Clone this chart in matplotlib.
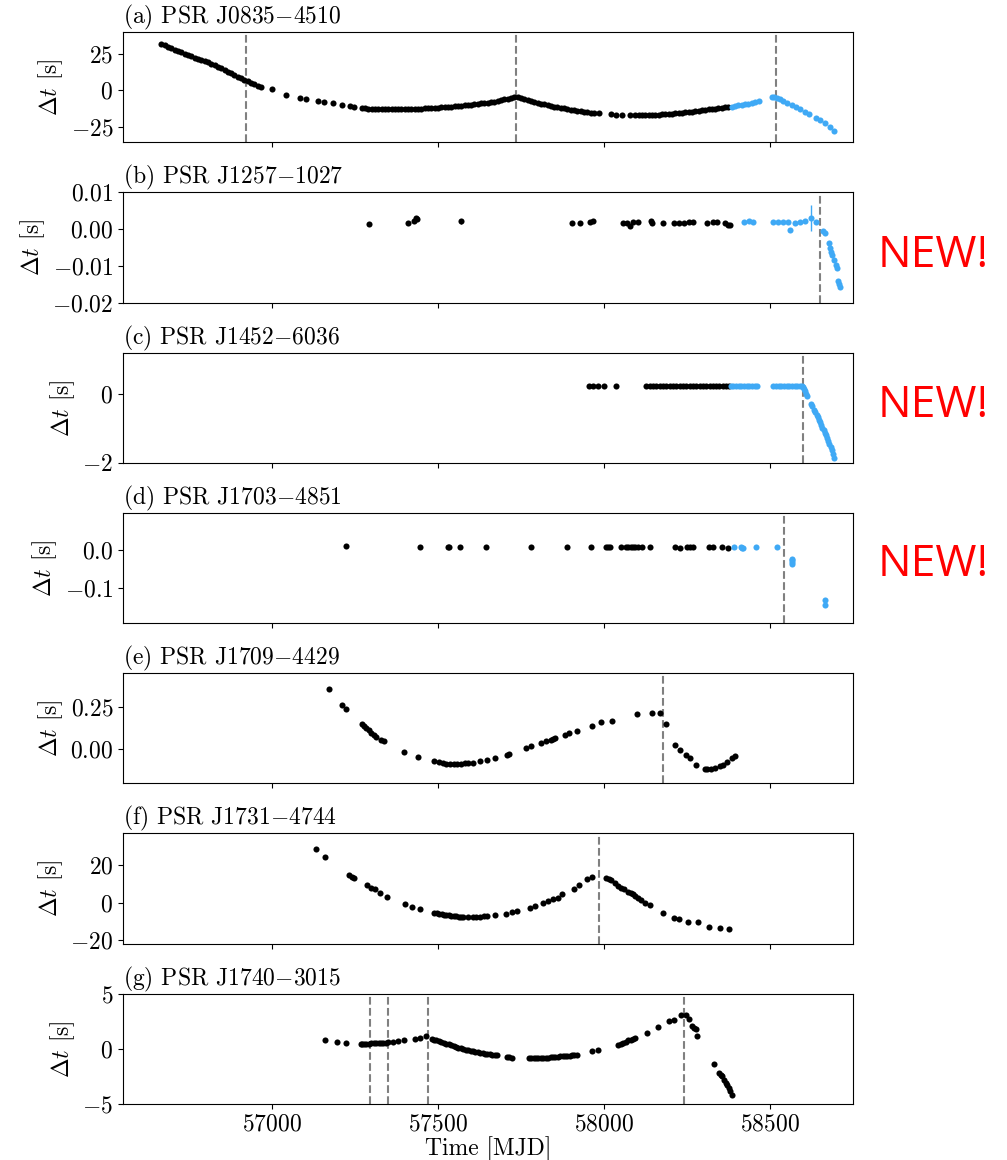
import numpy as np
import matplotlib.pyplot as plt

plt.rcParams['font.family'] = 'serif'
plt.rcParams['font.serif'] = ['cmr10']
plt.rcParams['mathtext.fontset'] = 'cm'
plt.rcParams['axes.formatter.use_mathtext'] = True
plt.rcParams['axes.unicode_minus'] = True

BLUE = '#3fa9f5'

# ---- (a) PSR J0835-4510 ----
a_mjd_k = [56667, 56677, 56687, 56697, 56707, 56717, 56727, 56737, 56747, 56757,
           56767, 56777, 56787, 56797, 56807, 56817, 56827, 56837, 56847, 56857,
           56867, 56877, 56887, 56897, 56907, 56917, 56927, 56937, 56947, 56957,
           56967, 57000, 57041, 57083, 57102, 57139, 57156, 57183, 57212, 57234,
           57248, 57270, 57280, 57290, 57300, 57310, 57320, 57330, 57340, 57350,
           57360, 57370, 57380, 57390, 57400, 57410, 57420, 57430, 57440, 57450,
           57460, 57470, 57480, 57490, 57500, 57510, 57520, 57530, 57540, 57550,
           57560, 57570, 57580, 57590, 57600, 57610, 57620, 57630, 57640, 57650,
           57660, 57670, 57680, 57690, 57700, 57710, 57720, 57730,
           57740, 57750, 57760, 57770, 57780, 57790, 57800, 57810, 57820, 57830,
           57840, 57850, 57860, 57870, 57880, 57890, 57900, 57910, 57920, 57930,
           57940, 57950, 57960, 57970, 57985, 58022, 58035, 58055, 58078, 58095,
           58105, 58115, 58125, 58135, 58145, 58155, 58165, 58175, 58185, 58195,
           58205, 58215, 58225, 58235, 58245, 58255, 58265, 58275, 58285, 58295,
           58305, 58315, 58325, 58335, 58345, 58355, 58365, 58375]
a_dt_k = [31.8, 30.8, 29.7, 28.7, 27.7, 26.8, 25.9, 25.0, 24.1, 23.1,
          22.2, 21.3, 20.5, 19.7, 18.9, 17.9, 17.0, 15.9, 14.8, 13.7,
          12.6, 11.5, 10.4, 9.3, 8.2, 7.1, 6.0, 5.0, 4.0, 3.0,
          2.0, 0.5, -3.0, -5.2, -6.1, -7.5, -8.2, -9.1, -10.2, -10.9,
          -11.8, -12.3, -12.4, -12.6, -12.7, -12.8, -12.9, -12.9, -13.0, -13.0,
          -13.1, -13.1, -13.1, -13.0, -13.0, -12.9, -12.9, -12.8, -12.7, -12.6,
          -12.5, -12.3, -12.2, -12.0, -11.9, -11.7, -11.5, -11.4, -11.2, -11.0,
          -10.8, -10.6, -10.4, -10.1, -9.9, -9.6, -9.4, -9.1, -8.8, -8.5,
          -8.2, -7.8, -7.4, -6.9, -6.4, -5.8, -5.3, -4.5,
          -4.9, -5.6, -6.3, -6.9, -7.5, -8.1, -8.6, -9.2, -9.7, -10.2,
          -10.7, -11.2, -11.6, -12.1, -12.5, -12.9, -13.3, -13.7, -14.0, -14.4,
          -14.7, -15.0, -15.3, -15.6, -15.9, -16.6, -16.8, -17.0, -17.2, -17.3,
          -17.3, -17.3, -17.2, -17.1, -17.0, -16.9, -16.8, -16.6, -16.5, -16.3,
          -16.1, -15.9, -15.7, -15.4, -15.2, -14.9, -14.7, -14.4, -14.1, -13.8,
          -13.5, -13.2, -12.9, -12.6, -12.3, -12.0, -11.8, -11.5]
a_mjd_b = [58385, 58395, 58405, 58415, 58425, 58435, 58445, 58455, 58466,
           58505, 58512, 58522, 58530, 58540, 58552, 58565, 58578, 58590, 58605,
           58618, 58640, 58652, 58665, 58680, 58692]
a_dt_b = [-11.2, -10.9, -10.5, -10.1, -9.7, -9.2, -8.7, -8.1, -7.5,
          -5.0, -4.8, -5.4, -6.2, -7.4, -8.7, -10.2, -11.8, -13.2, -15.0,
          -16.6, -19.2, -20.6, -22.3, -25.0, -28.0]
a_glitch = [56923, 57734, 58517]

# ---- (b) PSR J1257-1027 ----
b_mjd_k = [57293, 57410, 57428, 57433, 57438, 57568, 57905, 57927, 57959, 57967,
           58058, 58070, 58078, 58087, 58102, 58142, 58145, 58177, 58211, 58226,
           58240, 58255, 58269, 58309, 58328, 58342, 58364, 58373, 58379]
b_dt_k = [0.0013, 0.0017, 0.0023, 0.0029, 0.0027, 0.0021, 0.0017, 0.0016, 0.0020, 0.0021,
          0.0017, 0.0017, 0.0007, 0.0020, 0.0018, 0.0022, 0.0017, 0.0017, 0.0017, 0.0016,
          0.0017, 0.0018, 0.0018, 0.0017, 0.0020, 0.0020, 0.0016, 0.0012, 0.0011]
b_err_k = [0.0002, 0.0002, 0.0003, 0.0007, 0.0004, 0.0006, 0.0002, 0.0002, 0.0002, 0.0002,
           0.0003, 0.0002, 0.0004, 0.0002, 0.0002, 0.0004, 0.0002, 0.0002, 0.0002, 0.0002,
           0.0002, 0.0002, 0.0002, 0.0002, 0.0002, 0.0002, 0.0002, 0.0002, 0.0002]
b_mjd_b = [58423, 58437, 58449, 58510, 58525, 58539, 58554, 58561, 58576, 58590,
           58605, 58624, 58639, 58660, 58665, 58677, 58681, 58685, 58688, 58693,
           58698, 58701, 58704, 58708, 58712]
b_dt_b = [0.0020, 0.0022, 0.0020, 0.0020, 0.0020, 0.0019, 0.0019, -0.0003, 0.0017, 0.0018,
          0.0022, 0.0031, 0.0020, -0.0005, -0.0012, -0.0039, -0.0051, -0.0062, -0.0071, -0.0085,
          -0.0099, -0.0106, -0.0142, -0.0149, -0.0158]
b_err_b = [0.0004, 0.0003, 0.0003, 0.0003, 0.0003, 0.0003, 0.0003, 0.0003, 0.0003, 0.0003,
           0.0004, 0.0035, 0.0003, 0.0003, 0.0003, 0.0004, 0.0004, 0.0004, 0.0004, 0.0004,
           0.0004, 0.0004, 0.0004, 0.0004, 0.0004]
b_glitch = [58652]

# ---- (c) PSR J1452-6036 ----
c_mjd_k = [57956, 57968, 57981, 58000, 58036, 58128, 58138, 58148, 58158, 58168,
           58178, 58188, 58198, 58208, 58218, 58228, 58238, 58248, 58258, 58268,
           58278, 58288, 58298, 58308, 58318, 58328, 58338, 58348, 58358, 58368,
           58376]
c_dt_k = [0.25, 0.25, 0.25, 0.25, 0.25, 0.25, 0.25, 0.25, 0.25, 0.25,
          0.25, 0.25, 0.25, 0.25, 0.25, 0.25, 0.25, 0.25, 0.25, 0.25,
          0.25, 0.25, 0.25, 0.25, 0.25, 0.25, 0.25, 0.25, 0.25, 0.25,
          0.25]
c_mjd_b = [58382, 58390, 58398, 58406, 58414, 58422, 58430, 58438, 58446, 58454,
           58462, 58510, 58518, 58526, 58534, 58542, 58550, 58558, 58566, 58574,
           58582, 58590, 58596, 58601, 58604, 58607, 58610, 58613, 58624, 58628,
           58633, 58637, 58641, 58644, 58648, 58651, 58655, 58658, 58662, 58665,
           58669, 58672, 58676, 58679, 58683, 58686, 58690, 58693]
c_dt_b = [0.25, 0.25, 0.25, 0.25, 0.25, 0.25, 0.25, 0.25, 0.25, 0.25,
          0.25, 0.25, 0.25, 0.25, 0.25, 0.25, 0.25, 0.25, 0.25, 0.25,
          0.25, 0.25, 0.25, 0.22, 0.17, 0.10, 0.02, -0.05, -0.27, -0.34,
          -0.45, -0.52, -0.60, -0.66, -0.74, -0.81, -0.89, -0.97, -1.05, -1.12,
          -1.20, -1.28, -1.37, -1.45, -1.54, -1.63, -1.74, -1.85]
c_glitch = [58600]

# ---- (d) PSR J1703-4851 ----
d_mjd_k = [57223, 57445, 57530, 57533, 57565, 57646, 57781, 57890, 57960, 58007,
           58011, 58017, 58051, 58065, 58072, 58080, 58087, 58094, 58102, 58116,
           58138, 58215, 58230, 58250, 58259, 58269, 58317, 58329, 58357, 58373]
d_dt_k = [0.010, 0.007, 0.008, 0.007, 0.007, 0.008, 0.007, 0.008, 0.006, 0.007,
          0.008, 0.007, 0.007, 0.007, 0.008, 0.007, 0.006, 0.007, 0.007, 0.007,
          0.007, 0.007, 0.005, 0.007, 0.007, 0.007, 0.007, 0.006, 0.007, 0.004]
d_mjd_b = [58391, 58412, 58416, 58418, 58459, 58522,
           58566, 58566, 58567, 58567, 58666, 58666]
d_dt_b = [0.007, 0.007, 0.005, 0.004, 0.007, 0.007,
          -0.024, -0.028, -0.032, -0.037, -0.130, -0.142]
d_glitch = [58542]

# ---- (e) PSR J1709-4429 ----
e_mjd_k = [57172, 57212, 57222, 57270, 57277, 57284, 57292, 57299, 57306, 57314,
           57328, 57336, 57398, 57439, 57489, 57503, 57515, 57525, 57536, 57547,
           57558, 57569, 57580, 57591, 57605, 57627, 57649, 57671, 57708, 57715,
           57766, 57781, 57810, 57825, 57839, 57846, 57854, 57883, 57895, 57919,
           57963, 57992, 58025, 58100, 58144, 58170, 58186, 58215, 58230, 58247,
           58259, 58277, 58303, 58310, 58323, 58335, 58349, 58360, 58371, 58386,
           58396]
e_dt_k = [0.354, 0.262, 0.238, 0.146, 0.136, 0.124, 0.112, 0.096, 0.083, 0.073,
          0.057, 0.049, -0.014, -0.045, -0.071, -0.077, -0.081, -0.085, -0.086, -0.085,
          -0.085, -0.085, -0.083, -0.081, -0.081, -0.071, -0.061, -0.051, -0.031, -0.026,
          0.008, 0.018, 0.037, 0.047, 0.057, 0.061, 0.065, 0.087, 0.093, 0.110,
          0.136, 0.159, 0.169, 0.205, 0.215, 0.215, 0.146, 0.028, -0.006, -0.031,
          -0.051, -0.091, -0.114, -0.117, -0.116, -0.110, -0.100, -0.090, -0.077, -0.051,
          -0.041]
e_glitch = [58177]

# ---- (f) PSR J1731-4744 ----
f_mjd_k = [57134, 57160, 57233, 57240, 57247, 57285, 57299, 57311, 57325, 57347,
           57401, 57423, 57445, 57489, 57496, 57503, 57511, 57518, 57525, 57533,
           57540, 57547, 57555, 57562, 57569, 57576, 57590, 57605, 57616, 57627,
           57638, 57649, 57671, 57705, 57722, 57737, 57778, 57792, 57817, 57832,
           57846, 57861, 57875, 57909, 57924, 57949, 57963, 58007, 58014, 58021,
           58032, 58043, 58052, 58061, 58072, 58080, 58087, 58095, 58102, 58112,
           58123, 58138, 58177, 58211, 58226, 58253, 58282, 58316, 58350, 58376]
f_dt_k = [28.6, 24.6, 14.8, 13.8, 13.0, 9.3, 7.9, 7.1, 5.4, 3.2,
          -0.9, -2.3, -3.4, -5.4, -5.6, -5.9, -6.2, -6.4, -6.6, -6.8,
          -7.0, -7.1, -7.3, -7.5, -7.6, -7.7, -7.7, -7.5, -7.6, -7.5,
          -7.3, -7.1, -6.8, -5.9, -5.2, -4.5, -2.7, -1.8, -0.4, 0.7,
          1.8, 2.7, 4.5, 7.5, 9.3, 12.5, 13.9, 13.4, 12.8, 12.1,
          10.6, 8.9, 7.9, 7.1, 5.7, 5.0, 4.5, 3.5, 2.7, 1.4,
          -0.4, -1.4, -5.4, -8.0, -8.9, -10.4, -10.4, -12.9, -13.8, -14.3]
f_glitch = [57985]

# ---- (g) PSR J1740-3015 ----
g_mjd_k = [57160, 57197, 57223, 57267, 57272, 57277, 57284, 57292, 57299, 57306,
           57313, 57321, 57328, 57335, 57343, 57350, 57365, 57379, 57398, 57430,
           57445, 57463, 57481, 57488, 57495, 57503, 57510, 57517, 57525, 57532,
           57539, 57547, 57554, 57561, 57569, 57576, 57583, 57591, 57598, 57605,
           57613, 57620, 57627, 57635, 57642, 57649, 57657, 57664, 57671, 57678,
           57708, 57713, 57722, 57773, 57780, 57788, 57795, 57802, 57810, 57817,
           57825, 57832, 57839, 57846, 57854, 57861, 57868, 57876, 57883, 57890,
           57897, 57904, 57911, 57919, 57963, 57982, 58043, 58050, 58058, 58065,
           58072, 58080, 58087, 58094, 58131, 58163, 58197, 58211, 58233, 58247,
           58255, 58265, 58270, 58277, 58281, 58332, 58347, 58352, 58357, 58362,
           58367, 58372, 58376, 58381, 58386]
g_dt_k = [0.79, 0.64, 0.55, 0.48, 0.48, 0.48, 0.48, 0.48, 0.49, 0.50,
          0.51, 0.52, 0.54, 0.55, 0.57, 0.58, 0.61, 0.67, 0.79, 0.94,
          1.03, 1.15, 0.94, 0.85, 0.77, 0.70, 0.62, 0.55, 0.48, 0.40,
          0.32, 0.24, 0.17, 0.12, 0.06, 0.00, -0.06, -0.12, -0.18, -0.23,
          -0.27, -0.31, -0.35, -0.39, -0.43, -0.46, -0.48, -0.52, -0.55, -0.58,
          -0.73, -0.75, -0.79, -0.82, -0.83, -0.82, -0.83, -0.82, -0.82, -0.81,
          -0.80, -0.79, -0.77, -0.75, -0.73, -0.71, -0.69, -0.67, -0.64, -0.62,
          -0.61, -0.58, -0.55, -0.52, -0.18, -0.06, 0.39, 0.47, 0.55, 0.65,
          0.76, 0.85, 0.94, 1.03, 1.45, 1.97, 2.50, 2.65, 3.06, 3.03,
          2.73, 2.06, 1.90, 1.76, 1.15, -1.33, -2.18, -2.33, -2.48, -2.80,
          -3.09, -3.30, -3.55, -3.85, -4.15]
g_glitch = [57296, 57349, 57471, 58240]

titles = ['(a) PSR J0835$-$4510', '(b) PSR J1257$-$1027', '(c) PSR J1452$-$6036',
          '(d) PSR J1703$-$4851', '(e) PSR J1709$-$4429', '(f) PSR J1731$-$4744',
          '(g) PSR J1740$-$3015']

panels = [
    dict(k=(a_mjd_k, a_dt_k, None), b=(a_mjd_b, a_dt_b, None), gl=a_glitch,
         ylim=(-35.6, 39.7), yt=[-25, 0, 25]),
    dict(k=(b_mjd_k, b_dt_k, b_err_k), b=(b_mjd_b, b_dt_b, b_err_b), gl=b_glitch,
         ylim=(-0.02, 0.01), yt=[-0.02, -0.01, 0.0, 0.01]),
    dict(k=(c_mjd_k, c_dt_k, None), b=(c_mjd_b, c_dt_b, None), gl=c_glitch,
         ylim=(-2.0, 1.22), yt=[-2, 0]),
    dict(k=(d_mjd_k, d_dt_k, None), b=(d_mjd_b, d_dt_b, None), gl=d_glitch,
         ylim=(-0.19, 0.095), yt=[-0.1, 0.0]),
    dict(k=(e_mjd_k, e_dt_k, None), b=None, gl=e_glitch,
         ylim=(-0.2, 0.447), yt=[0.0, 0.25]),
    dict(k=(f_mjd_k, f_dt_k, None), b=None, gl=f_glitch,
         ylim=(-22, 37), yt=[-20, 0, 20]),
    dict(k=(g_mjd_k, g_dt_k, None), b=None, gl=g_glitch,
         ylim=(-5, 5), yt=[-5, 0, 5]),
]

fig, axs = plt.subplots(7, 1, sharex=True, figsize=(10.07, 11.6), dpi=100)
fig.subplots_adjust(left=0.1221, right=0.847, top=0.9724, bottom=0.0483, hspace=0.4545)

for ax, p, title in zip(axs, panels, titles):
    for key, col in (('k', 'k'), ('b', BLUE)):
        if p[key] is None:
            continue
        x, y, err = p[key]
        ax.errorbar(x, y, yerr=err, fmt='o', color=col, ms=4.4, mew=0,
                    elinewidth=1.0, capsize=0, zorder=3)
    for g in p['gl']:
        ax.axvline(g, color='grey', ls='--', lw=1.5, zorder=2)
    ax.set_ylim(*p['ylim'])
    ax.set_yticks(p['yt'])
    ax.set_title(title, loc='left', fontsize=17, pad=3)
    ax.set_ylabel(r'$\Delta t$ [s]', fontsize=17)
    ax.tick_params(labelsize=17)

axs[-1].set_xlim(56551, 58750)
axs[-1].set_xticks([57000, 57500, 58000, 58500])
axs[-1].set_xlabel('Time [MJD]', fontsize=17, labelpad=0)

# red markers for the newly reported glitches
for yc in [256, 406, 565]:
    fig.text(933 / 1007, 1 - yc / 1160, 'NEW!', color='red', fontsize=32,
             family='Open Sans', ha='center', va='center')

fig.savefig('out.png', dpi=100)
